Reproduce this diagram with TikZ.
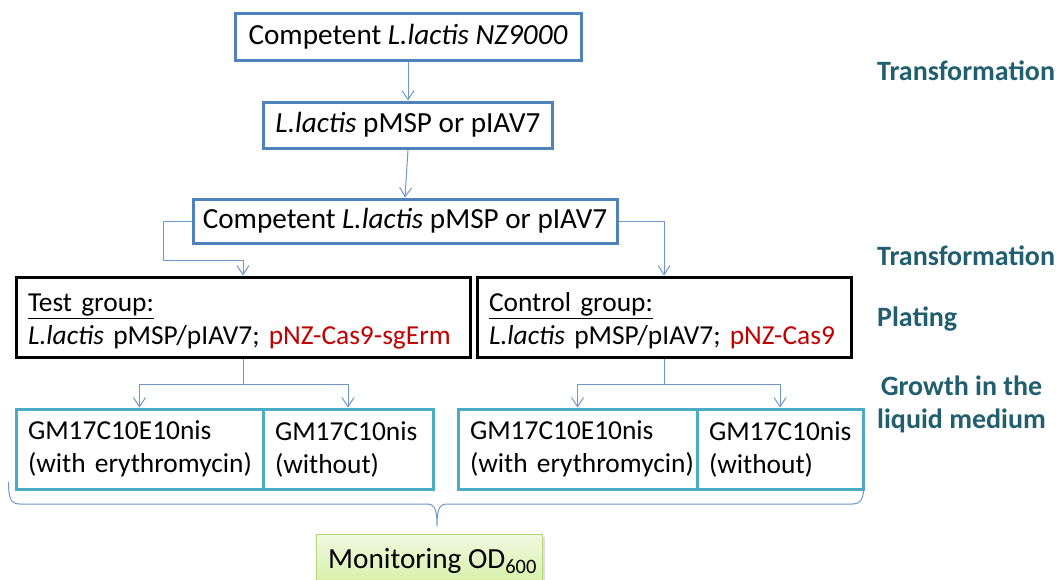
\documentclass[tikz,border=0pt]{standalone}
\usepackage{fontspec}
\setmainfont{Carlito}
\usetikzlibrary{arrows.meta,calc}
\definecolor{boxblue}{HTML}{4F81BD}
\definecolor{linkblue}{HTML}{6E97CC}
\definecolor{tealbox}{HTML}{4BACC6}
\definecolor{labelteal}{HTML}{215E6E}
\definecolor{cas}{HTML}{C00000}
\definecolor{greenA}{HTML}{F0F9E0}
\definecolor{greenB}{HTML}{D6F0A6}
\definecolor{greenedge}{HTML}{B3D67C}
\tikzset{
  body/.style={font=\fontsize{29.2}{34}\selectfont},
  bluebox/.style={body, draw=boxblue, line width=3pt, inner sep=0pt, align=center},
  % left-aligned two-line boxes: width #1 is the full box width
  leftbox/.style={font=\fontsize{27.4}{33}\selectfont, line width=3pt, inner xsep=12pt, inner ysep=0pt,
                  align=left, text width=#1-24pt, minimum height=80pt},
  blackbox/.style={leftbox=#1, draw=black},
  tealcell/.style={leftbox=#1, draw=tealbox},
  link/.style={draw=linkblue, line width=1pt, -{Straight Barb[length=9pt,width=12pt]}},
  plain link/.style={draw=linkblue, line width=1pt},
  steplabel/.style={font=\fontsize{28}{33}\selectfont\bfseries, text=labelteal, anchor=west, inner sep=0pt, align=center},
}
\begin{document}
\begin{tikzpicture}[x=1pt, y=-1pt]
\useasboundingbox (0,0) rectangle (1059,579);
\clip (0,0) rectangle (1059,579);

% main chain
\node[bluebox, minimum width=346pt, minimum height=47pt] (n1) at (408,37) {Competent \textit{L.lactis NZ9000}};
\node[bluebox, minimum width=289pt, minimum height=46pt] (n2) at (408,125) {\textit{L.lactis} pMSP or pIAV7};
\node[bluebox, minimum width=424pt, minimum height=44pt] (n3) at (405,221) {Competent \textit{L.lactis} pMSP or pIAV7};

% groups
\node[blackbox=454pt] (n4) at (243,317)
  {\rule{0pt}{27pt}\mbox{\underline{Test group:}}\\\mbox{\textit{L.lactis} pMSP/pIAV7; \textcolor{cas}{pNZ-Cas9-sgErm}}};
\node[blackbox=374pt] (n5) at (664,317)
  {\rule{0pt}{27pt}\mbox{\underline{Control group:}}\\\mbox{\textit{L.lactis} pMSP/pIAV7; \textcolor{cas}{pNZ-Cas9}}};

% growth media
\node[tealcell=247pt] (n6a) at (139.5,449) {\mbox{GM17C10E10nis}\\\mbox{(with erythromycin)}};
\node[tealcell=170pt] (n6b) at (348,449) {\mbox{GM17C10nis}\\\mbox{(without)}};
\node[tealcell=239pt] (n7a) at (577.5,449) {\mbox{GM17C10E10nis}\\\mbox{(with erythromycin)}};
\node[tealcell=166pt] (n7b) at (780,449) {\mbox{GM17C10nis}\\\mbox{(without)}};

% monitoring step
\fill[black!12] (319,537) rectangle (545,590);
\node[draw=greenedge, line width=1pt, top color=greenA, bottom color=greenB,
      minimum width=226pt, minimum height=52pt, inner sep=0pt, anchor=north west] (n8) at (316,534) {};
\node[body, anchor=base west, inner sep=0pt] (n8t) at ([xshift=12pt, yshift=-34pt]n8.north west) {Monitoring OD\textsubscript{600}};

% connectors
\draw[link] (n1.south) -- (n2.north);
\draw[link] (n2.south) -- (n3.north);
\draw[link] (n3.west) -- ++(-28,0) -- ++(0,39) -| (n4.north);
\draw[link] (n3.east) -| (n5.north);

\draw[plain link] (n4.south) -- ++(0,26) coordinate (t4);
\draw[link] (t4) -| (n6a.north);
\draw[link] (t4) -| (n6b.north);
\draw[plain link] (n5.south) -- ++(0,26) coordinate (t5);
\draw[link] (t5) -| (n7a.north);
\draw[link] (t5) -| (n7b.north);

% brace gathering all cultures
\coordinate (braceL) at (8.5,482);
\coordinate (braceR) at (864,482);
\coordinate (braceTip) at (437,526);
\draw[plain link] (braceL) .. controls (8.5,499) and (11,504) .. (20,504)
  -- (426,504) .. controls (434,504) and (437,507) .. (braceTip)
  .. controls (437,507) and (440,504) .. (448,504)
  -- (852,504) .. controls (861,504) and (864,499) .. (braceR);

% step labels
\node[steplabel] (l1) at (877,71) {Transformation};
\node[steplabel] (l2) at (877,256) {Transformation};
\node[steplabel] (l3) at (877,319) {Plating};
\node[steplabel] (l4) at (877,404) {Growth in the\\liquid medium};
\end{tikzpicture}
\end{document}
